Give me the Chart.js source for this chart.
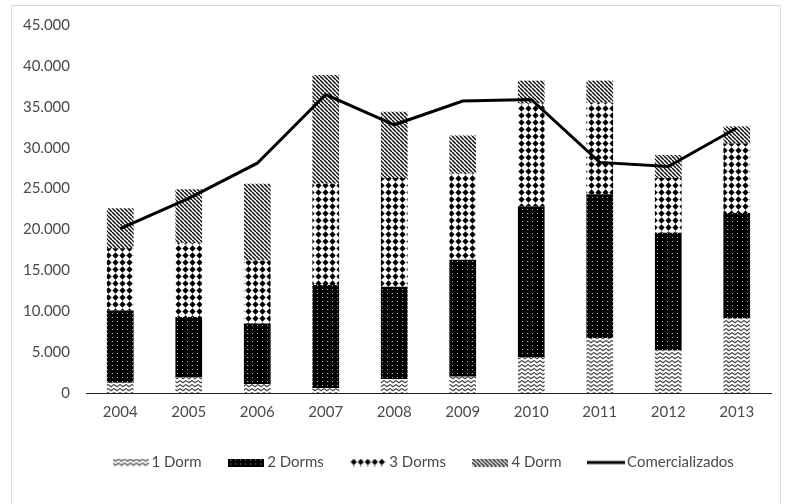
<!DOCTYPE html>
<html>
<head>
<meta charset="utf-8">
<script src="https://cdn.jsdelivr.net/npm/chart.js@4/dist/chart.umd.min.js"></script>
<style>
  html, body { margin: 0; padding: 0; background: #fff; }
  #wrap { position: relative; width: 787px; height: 504px; overflow: hidden; }
  #frame { position: absolute; left: 11px; top: 5px; width: 770px; height: 520px; border: 1px solid #d9d9d9; box-sizing: border-box; pointer-events: none; }
  canvas { position: absolute; left: 0; top: 0; }
</style>
</head>
<body>
<div id="wrap">
  <canvas id="c" width="787" height="504"></canvas>
  <div id="frame"></div>
</div>
<script>
const years = ['2004','2005','2006','2007','2008','2009','2010','2011','2012','2013'];
const dorm1 = [1250, 1900, 1100, 600, 1700, 2000, 4400, 6700, 5200, 9100];
const dorm2 = [8850, 7400, 7400, 12600, 11300, 14300, 18400, 17600, 14400, 12900];
const dorm3 = [7600, 9000, 7700, 12400, 13300, 10500, 12600, 11200, 6700, 8500];
const dorm4 = [4900, 6600, 9400, 13300, 8100, 4700, 2800, 2700, 2800, 2100];
const comercializados = [20100, 23800, 28100, 36500, 32800, 35700, 35900, 28200, 27700, 32400];
const seriesNames = ['1 Dorm', '2 Dorms', '3 Dorms', '4 Dorm', 'Comercializados'];

function makeTile(w, h, draw) {
  const c = document.createElement('canvas');
  c.width = w; c.height = h;
  const x = c.getContext('2d');
  draw(x, w, h);
  return c;
}
// 1 Dorm: zigzag
const tile1 = makeTile(6, 4, (x, w, h) => {
  x.fillStyle = '#fff'; x.fillRect(0, 0, w, h);
  x.strokeStyle = '#444'; x.lineWidth = 1.1;
  x.beginPath(); x.moveTo(0, 0.5); x.lineTo(3, 2.8); x.lineTo(6, 0.5); x.stroke();
});
// 2 Dorms: black with white dots
const tile2 = makeTile(5, 4, (x, w, h) => {
  x.fillStyle = '#000'; x.fillRect(0, 0, w, h);
  x.fillStyle = '#bbb'; x.fillRect(2, 1, 1, 1);
});
// 3 Dorms: diamonds
const tile3 = makeTile(7, 7, (x, w, h) => {
  x.fillStyle = '#fff'; x.fillRect(0, 0, w, h);
  x.fillStyle = '#000';
  x.beginPath(); x.moveTo(3.5, 0.3); x.lineTo(6.6, 3.5); x.lineTo(3.5, 6.7); x.lineTo(0.4, 3.5); x.closePath(); x.fill();
});
// 4 Dorm: diagonal "\" lines
const tile4 = makeTile(4, 4, (x, w, h) => {
  x.fillStyle = '#fff'; x.fillRect(0, 0, w, h);
  x.strokeStyle = '#111'; x.lineWidth = 1.5;
  for (const o of [-4, 0, 4]) { x.beginPath(); x.moveTo(o, 0); x.lineTo(o + 4, 4); x.stroke(); }
});
const ctx = document.getElementById('c').getContext('2d');
const pat = t => ctx.createPattern(t, 'repeat');
const fills = [pat(tile1), pat(tile2), pat(tile3), pat(tile4)];
const tiles = [tile1, tile2, tile3, tile4];

function swatch(i) {
  return makeTile(36, 8, (x, w, h) => {
    x.fillStyle = x.createPattern(tiles[i], 'repeat'); x.fillRect(0, 0, w, h);
  });
}
const lineSwatch = makeTile(38, 8, (x, w, h) => {
  x.strokeStyle = '#000'; x.lineWidth = 3;
  x.beginPath(); x.moveTo(0, 4); x.lineTo(38, 4); x.stroke();
});
const legendImgs = [swatch(0), swatch(1), swatch(2), swatch(3), lineSwatch];

const barData = [dorm1, dorm2, dorm3, dorm4];
const datasets = barData.map((d, i) => ({
  type: 'bar', label: seriesNames[i], data: d, backgroundColor: fills[i],
  borderWidth: 0, order: 1, stack: 's', barPercentage: 0.39, categoryPercentage: 1
}));
datasets.push({
  type: 'line', label: seriesNames[4], data: comercializados, borderColor: '#000',
  backgroundColor: '#000', borderWidth: 3, pointRadius: 0, tension: 0, order: 0, fill: false
});

const FONT = 'Lato';
const TXT = '#4a4a4a';
new Chart(ctx, {
  data: { labels: years, datasets },
  options: {
    responsive: false, animation: false,
    layout: { padding: { left: 0, top: 24, right: 16, bottom: 24 } },
    plugins: {
      tooltip: { enabled: false },
      legend: {
        position: 'bottom', fullSize: false, align: 'start',
        labels: {
          usePointStyle: true, pointStyleWidth: 27, boxHeight: 8,
          padding: 31, color: TXT, font: { family: FONT, size: 15 },
          sort: (a, b) => a.datasetIndex - b.datasetIndex,
          generateLabels: (chart) => {
            const items = Chart.defaults.plugins.legend.labels.generateLabels(chart);
            items.forEach(it => { it.pointStyle = legendImgs[it.datasetIndex]; });
            return items;
          }
        }
      }
    },
    scales: {
      x: {
        stacked: true,
        grid: { display: false, drawTicks: false },
        border: { display: true, color: '#222', width: 1 },
        ticks: { color: TXT, font: { family: FONT, size: 15 }, padding: 10 },
        afterFit: s => { s.height = 31; }
      },
      y: {
        stacked: true, min: 0, max: 45000,
        grid: { display: false, drawTicks: false },
        border: { display: false },
        ticks: {
          stepSize: 5000, color: TXT, font: { family: FONT, size: 15 }, padding: 16,
          callback: v => v === 0 ? '0' : (v / 1000).toFixed(0) + '.000'
        },
        afterFit: s => { s.width = 86; }
      }
    }
  }
});
</script>
</body>
</html>
